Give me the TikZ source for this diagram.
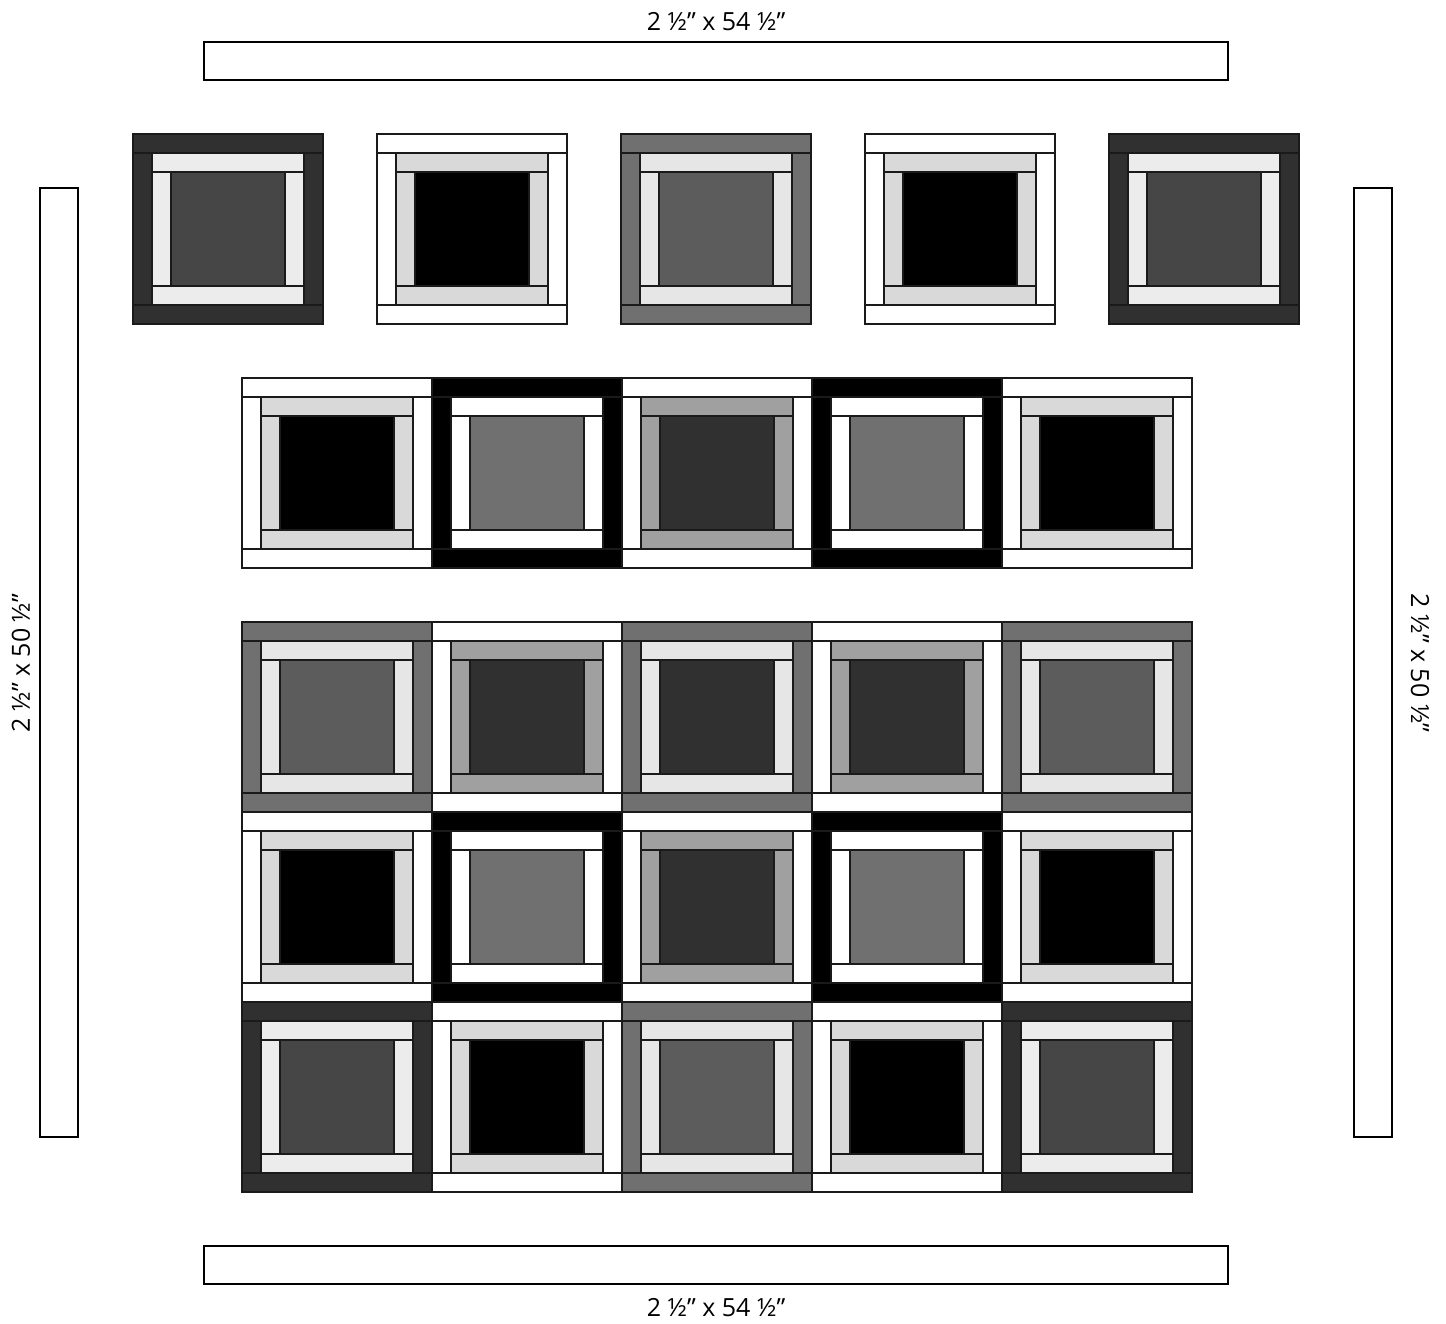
\documentclass[tikz,border=0pt]{standalone}
\usepackage{fontspec}
\setmainfont{Open Sans}
\definecolor{cA}{HTML}{303030}
\definecolor{cB}{HTML}{ECECEC}
\definecolor{cC}{HTML}{464646}
\definecolor{cD}{HTML}{D9D9D9}
\definecolor{cE}{HTML}{707070}
\definecolor{cF}{HTML}{E6E6E6}
\definecolor{cG}{HTML}{5C5C5C}
\definecolor{cH}{HTML}{A0A0A0}
\definecolor{edge}{HTML}{1A1A1A}
\newcommand\qb[5]{%
  \begin{scope}[shift={(#1,#2)},x=19pt,y=-19pt]
    \filldraw[piece,fill=#3] (0,0) rectangle (10,1);
    \filldraw[piece,fill=#3] (0,9) rectangle (10,10);
    \filldraw[piece,fill=#3] (0,1) rectangle (1,9);
    \filldraw[piece,fill=#3] (9,1) rectangle (10,9);
    \filldraw[piece,fill=#4] (1,1) rectangle (9,2);
    \filldraw[piece,fill=#4] (1,8) rectangle (9,9);
    \filldraw[piece,fill=#4] (1,2) rectangle (2,8);
    \filldraw[piece,fill=#4] (8,2) rectangle (9,8);
    \filldraw[piece,fill=#5] (2,2) rectangle (8,8);
  \end{scope}}
\begin{document}
\begin{tikzpicture}[x=1pt,y=-1pt,
  piece/.style={draw=edge,line width=1.4pt},
  strip/.style={draw=black,line width=2pt,fill=white,inner sep=0pt},
  lbl/.style={font=\fontsize{25}{30}\selectfont,inner sep=0pt}]
\useasboundingbox (0,0) rectangle (1446,1324);
\fill[white] (0,0) rectangle (1446,1324);
% border strips
\node[strip,minimum width=1024pt,minimum height=38pt] (top) at (716,61) {};
\node[strip,minimum width=1024pt,minimum height=38pt] (bottom) at (716,1265) {};
\node[strip,minimum width=38pt,minimum height=949pt] (left) at (59,662.5) {};
\node[strip,minimum width=38pt,minimum height=949pt] (right) at (1373,662.5) {};
\node[lbl] (ltop) at (716,22) {2 ½” x 54 ½”};
\node[lbl] (lbottom) at (716,1308) {2 ½” x 54 ½”};
\node[lbl,rotate=90] (lleft) at (21,663) {2 ½” x 50 ½”};
\node[lbl,rotate=-90] (lright) at (1420,663) {2 ½” x 50 ½”};
% top row
\qb{133}{134}{cA}{cB}{cC}
\qb{377}{134}{white}{cD}{black}
\qb{621}{134}{cE}{cF}{cG}
\qb{865}{134}{white}{cD}{black}
\qb{1109}{134}{cA}{cB}{cC}
% row 2
\qb{242}{378}{white}{cD}{black}
\qb{432}{378}{black}{white}{cE}
\qb{622}{378}{white}{cH}{cA}
\qb{812}{378}{black}{white}{cE}
\qb{1002}{378}{white}{cD}{black}
% row 3
\qb{242}{622}{cE}{cF}{cG}
\qb{432}{622}{white}{cH}{cA}
\qb{622}{622}{cE}{cF}{cA}
\qb{812}{622}{white}{cH}{cA}
\qb{1002}{622}{cE}{cF}{cG}
% row 4
\qb{242}{812}{white}{cD}{black}
\qb{432}{812}{black}{white}{cE}
\qb{622}{812}{white}{cH}{cA}
\qb{812}{812}{black}{white}{cE}
\qb{1002}{812}{white}{cD}{black}
% row 5
\qb{242}{1002}{cA}{cB}{cC}
\qb{432}{1002}{white}{cD}{black}
\qb{622}{1002}{cE}{cF}{cG}
\qb{812}{1002}{white}{cD}{black}
\qb{1002}{1002}{cA}{cB}{cC}
\end{tikzpicture}
\end{document}
